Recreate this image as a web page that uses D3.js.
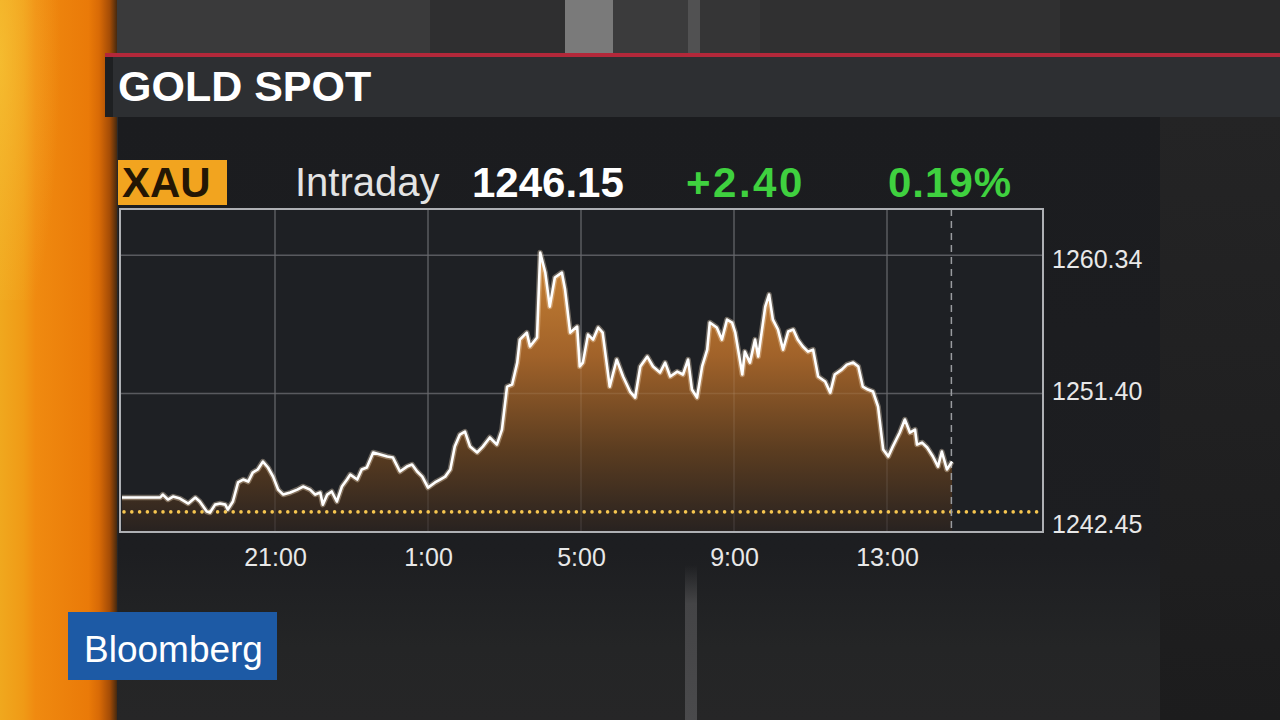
<!DOCTYPE html>
<html><head><meta charset="utf-8">
<script src="https://cdn.jsdelivr.net/npm/d3@7"></script>
<style>html,body{margin:0;padding:0;background:#29292a;overflow:hidden}svg{display:block}</style>
</head><body>
<svg id="c" width="1280" height="720"></svg>
<script>
// ---------- DATA ----------
const times = ["17:00","18:00","18:04","18:12","18:20","18:31","18:44","18:55","19:02","19:13","19:18","19:26","19:34","19:42","19:46","19:54",
"20:02","20:10","20:18","20:25","20:33","20:41","20:49","20:57","21:05","21:13","21:24","21:35","21:44","21:55","22:03","22:11","22:15","22:22",
"22:29","22:37","22:45","22:53","22:58","23:09","23:16","23:24","23:34","23:45","23:56","0:05","0:16","0:27","0:35","0:43","0:51","1:00","1:11",
"1:19","1:27","1:35","1:42","1:50","1:58","2:06","2:17","2:26","2:37","2:48","2:56","3:04","3:12","3:20","3:24","3:35","3:40","3:51","3:56","4:04",
"4:11","4:19","4:30","4:35","4:43","4:54","4:58","5:03","5:11","5:19","5:27","5:34","5:45","5:56","6:06","6:17","6:25","6:33","6:44","6:53","7:04",
"7:12","7:20","7:31","7:40","7:48","7:54","8:02","8:10","8:18","8:22","8:33","8:41","8:49","8:57","9:02","9:13","9:17","9:25","9:33","9:38","9:49",
"9:55","10:01","10:09","10:17","10:25","10:33","10:40","10:48","10:56","11:04","11:12","11:23","11:31","11:38","11:49","11:57","12:07","12:15",
"12:22","12:30","12:38","12:46","12:54","13:02","13:09","13:20","13:28","13:36","13:44","13:47","13:55","14:03","14:12","14:20","14:26","14:34","14:42"];
const prices = [1244.68,1244.68,1244.87,1244.55,1244.74,1244.61,1244.29,1244.68,1244.42,1243.77,1243.71,1244.22,1244.29,1244.22,1243.90,1244.42,
1245.65,1245.84,1245.71,1246.29,1246.49,1247.00,1246.62,1246.03,1245.19,1244.87,1245.00,1245.19,1245.39,1245.19,1244.87,1245.00,1244.22,1244.87,
1245.07,1244.42,1245.39,1245.84,1246.16,1245.84,1246.49,1246.62,1247.59,1247.46,1247.33,1247.26,1246.36,1246.68,1246.81,1246.36,1246.03,1245.32,1245.65,
1245.84,1246.03,1246.49,1247.97,1248.75,1248.94,1247.97,1247.59,1247.97,1248.56,1248.10,1249.07,1251.85,1251.98,1253.40,1254.89,1255.34,1254.44,1255.02,1260.51,1259.22,
1257.02,1258.90,1259.22,1258.12,1255.34,1255.73,1253.15,1253.40,1255.21,1254.89,1255.67,1255.34,1251.85,1253.60,1252.50,1251.53,1251.14,1253.15,1253.79,1253.15,1252.76,
1253.40,1252.50,1252.82,1252.63,1253.60,1251.66,1251.14,1253.15,1254.24,1255.99,1255.67,1254.89,1256.18,1255.99,1255.34,1252.63,1254.11,1253.40,1254.89,1253.79,1257.02,
1257.80,1256.18,1255.54,1254.24,1255.41,1255.54,1254.89,1254.44,1254.11,1254.24,1252.50,1252.18,1251.46,1252.63,1252.95,1253.27,1253.40,1253.15,
1251.85,1251.66,1251.53,1250.56,1247.78,1247.33,1247.97,1248.88,1249.72,1248.88,1249.07,1248.10,1248.23,1247.91,1247.33,1246.68,1247.65,1246.49,1247.00];
const yTickValues = [1242.45, 1251.40, 1260.34];
const xTickLabels = ["21:00","1:00","5:00","9:00","13:00"];
const ticker = "XAU", title = "GOLD SPOT", period = "Intraday";
const lastPrice = 1246.15, netChange = 2.40, pctChange = 0.19;
const prevClose = 1243.75;
const nowTime = "14:41";
const sessionStart = "17:00", sessionEnd = "17:00";
const yMaxDomain = 1263.33;

// ---------- HELPERS ----------
const parseT = (s, end) => { const [h, m] = s.split(":").map(Number); return new Date(2016, 0, (end || h < 17) ? 5 : 4, h, m); };
const data = times.map((t, i) => ({ t: parseT(t), v: prices[i] }));

const svg = d3.select("#c");
const defs = svg.append("defs");
const FONT = "'Liberation Sans', Arial, Helvetica, sans-serif";
const grad = (id, stops, attrs, type) => {
  const g = defs.append(type || "linearGradient").attr("id", id);
  Object.entries(attrs).forEach(([k, v]) => g.attr(k, v));
  stops.forEach(([o, c, op]) => g.append("stop").attr("offset", o).attr("stop-color", c).attr("stop-opacity", op == null ? 1 : op));
};

// ---------- BACKGROUND ----------
grad("leftStrip", [[0, "#f0a81e"], [0.2, "#f09a16"], [0.3, "#f08a10"], [0.75, "#ea7a08"], [0.84, "#d86a06"], [0.93, "#a44c06"], [1, "#3a2410"]],
  { x1: 0, x2: 1, y1: 0, y2: 0 });
svg.append("rect").attr("x", 0).attr("y", 0).attr("width", 118).attr("height", 720).attr("fill", "url(#leftStrip)");
grad("leftTop", [[0, "#f8c83a", 0.6], [0.5, "#f8c23a", 0.3], [1, "#f8c23a", 0]],
  { cx: 0, cy: 0.2, r: 1, gradientTransform: "scale(1,1)" }, "radialGradient");
svg.append("rect").attr("x", 0).attr("y", 0).attr("width", 60).attr("height", 300).attr("fill", "url(#leftTop)");

grad("bgMain", [[0, "#2b2b2c"], [1, "#252526"]], { x1: 0, x2: 0, y1: 0, y2: 1 });
svg.append("rect").attr("x", 117).attr("y", 0).attr("width", 1163).attr("height", 720).attr("fill", "url(#bgMain)");

// top studio band stripes
const topBands = [[117, 430, "#3a3a3b"], [430, 565, "#2f2f30"], [565, 613, "#7a7a7a"], [613, 688, "#3b3b3c"], [688, 700, "#515152"], [700, 760, "#353536"], [760, 1060, "#303031"], [1060, 1280, "#2a2a2b"]];
svg.selectAll(".tb").data(topBands).join("rect").attr("x", d => d[0]).attr("y", 0).attr("width", d => d[1] - d[0]).attr("height", 54).attr("fill", d => d[2]);

// right side area
grad("rightSide", [[0, "#242425"], [1, "#1c1c1d"]], { x1: 0, x2: 0, y1: 0, y2: 1 });
svg.append("rect").attr("x", 1160).attr("y", 117).attr("width", 120).attr("height", 603).attr("fill", "url(#rightSide)");

// red rule + title bar
svg.append("rect").attr("x", 105).attr("y", 53).attr("width", 1175).attr("height", 4).attr("fill", "#b3283a");
svg.append("rect").attr("x", 105).attr("y", 57).attr("width", 1175).attr("height", 60).attr("fill", "#2d2f32");
svg.append("rect").attr("x", 105).attr("y", 57).attr("width", 8).attr("height", 60).attr("fill", "#1e2022");
svg.append("text").attr("x", 118).attr("y", 101).attr("font-family", FONT).attr("font-weight", "bold").attr("font-size", 43)
  .attr("fill", "#ffffff").text(title);

// panel
grad("panel", [[0, "#1b1c1f"], [0.72, "#1d1e21"], [0.88, "#242526"], [1, "#262627"]], { x1: 0, x2: 0, y1: 0, y2: 1 });
svg.append("rect").attr("x", 118).attr("y", 117).attr("width", 1042).attr("height", 603).attr("fill", "url(#panel)");
grad("stripe", [[0, "#48484a", 0], [0.25, "#48484a", 0.9], [1, "#4a4a4c", 1]], { x1: 0, x2: 0, y1: 0, y2: 1 });
svg.append("rect").attr("x", 685).attr("y", 565).attr("width", 12).attr("height", 155).attr("fill", "url(#stripe)");

// ---------- HEADER ----------
svg.append("rect").attr("x", 118).attr("y", 160).attr("width", 109).attr("height", 45).attr("fill", "#f2a41f");
svg.append("text").attr("x", 122).attr("y", 197).attr("font-family", FONT).attr("font-weight", "bold").attr("font-size", 42)
  .attr("fill", "#241604").text(ticker);
svg.append("text").attr("x", 295).attr("y", 196).attr("font-family", FONT).attr("font-size", 40).attr("fill", "#e4e4e4").text(period);
svg.append("text").attr("x", 472).attr("y", 197).attr("font-family", FONT).attr("font-weight", "bold").attr("font-size", 42)
  .attr("fill", "#ffffff").text(d3.format(".2f")(lastPrice));
svg.append("text").attr("x", 686).attr("y", 197).attr("font-family", FONT).attr("font-weight", "bold").attr("font-size", 42)
  .attr("fill", "#3fd13f").attr("letter-spacing", 2.5).text(d3.format("+.2f")(netChange));
svg.append("text").attr("x", 888).attr("y", 197).attr("font-family", FONT).attr("font-weight", "bold").attr("font-size", 42)
  .attr("fill", "#3fd13f").attr("letter-spacing", 1).text(d3.format(".2f")(pctChange) + "%");

// ---------- CHART ----------
const x = d3.scaleTime().domain([parseT(sessionStart, false), parseT(sessionEnd, true)]).range([122, 1040]);
const y = d3.scaleLinear().domain([yTickValues[0], yMaxDomain]).range([532, 209]);
const fx0 = x.range()[0] - 2, fx1 = x.range()[1] + 3, fy0 = y.range()[1], fy1 = y.range()[0];

svg.append("rect").attr("x", fx0).attr("y", fy0).attr("width", fx1 - fx0).attr("height", fy1 - fy0).attr("fill", "#1e2024");

const xTicks = xTickLabels.map(s => parseT(s));
svg.append("g").selectAll("line").data(yTickValues.slice(1)).join("line")
  .attr("x1", fx0).attr("x2", fx1).attr("y1", d => y(d)).attr("y2", d => y(d)).attr("stroke", "#4b4d52").attr("stroke-width", 1.5);
svg.append("g").selectAll("line").data(xTicks).join("line")
  .attr("x1", d => x(d)).attr("x2", d => x(d)).attr("y1", fy0).attr("y2", fy1).attr("stroke", "#4b4d52").attr("stroke-width", 1.5);

// area
grad("areaG", [[0, "#cf8534"], [0.35, "#a8662a"], [0.7, "#5e3e20"], [1, "#282220"]],
  { gradientUnits: "userSpaceOnUse", x1: 0, x2: 0, y1: y(1260), y2: fy1 });
defs.append("clipPath").attr("id", "clipF").append("rect").attr("x", fx0).attr("y", fy0).attr("width", fx1 - fx0).attr("height", fy1 - fy0);
const gC = svg.append("g").attr("clip-path", "url(#clipF)");
gC.append("path").datum(data).attr("fill", "url(#areaG)").attr("opacity", 0.95)
  .attr("d", d3.area().x(d => x(d.t)).y0(fy1).y1(d => y(d.v)));
gC.append("g").selectAll("line").data(xTicks).join("line")
  .attr("x1", d => x(d)).attr("x2", d => x(d)).attr("y1", fy0).attr("y2", fy1).attr("stroke", "#ffffff").attr("stroke-opacity", 0.08).attr("stroke-width", 1.5);
gC.append("g").selectAll("line").data(yTickValues.slice(1)).join("line")
  .attr("x1", fx0).attr("x2", fx1).attr("y1", d => y(d)).attr("y2", d => y(d)).attr("stroke", "#ffffff").attr("stroke-opacity", 0.08).attr("stroke-width", 1.5);

// previous close dotted
svg.append("line").attr("x1", fx0 + 4).attr("x2", fx1 - 4).attr("y1", y(prevClose)).attr("y2", y(prevClose))
  .attr("stroke", "#f6c650").attr("stroke-width", 3.6).attr("stroke-linecap", "round").attr("stroke-dasharray", "0 7.8");

// now marker
svg.append("line").attr("x1", x(parseT(nowTime))).attr("x2", x(parseT(nowTime))).attr("y1", fy0).attr("y2", fy1)
  .attr("stroke", "#9a9ca0").attr("stroke-width", 1.5).attr("stroke-dasharray", "7 5");

// line
const lineGen = d3.line().x(d => x(d.t)).y(d => y(d.v));
svg.append("path").datum(data).attr("fill", "none").attr("stroke", "#ffe9c8").attr("stroke-opacity", 0.35).attr("stroke-width", 5.5).attr("stroke-linejoin", "round").attr("d", lineGen);
svg.append("path").datum(data).attr("fill", "none").attr("stroke", "#ffffff").attr("stroke-width", 2.6).attr("stroke-linejoin", "round").attr("d", lineGen);

// frame
svg.append("rect").attr("x", fx0).attr("y", fy0).attr("width", fx1 - fx0).attr("height", fy1 - fy0)
  .attr("fill", "none").attr("stroke", "#aeb0b4").attr("stroke-width", 2);

// axes
const yDy = ["0em", "0.22em", "0.47em"];
const yAxis = d3.axisRight(y).tickValues(yTickValues).tickSize(0).tickPadding(0).tickFormat(d3.format(".2f"));
const gy = svg.append("g").attr("transform", `translate(${fx1 + 9},0)`).call(yAxis);
gy.select(".domain").remove();
gy.selectAll("text").attr("font-family", FONT).attr("font-size", 25).attr("fill", "#e8e8e8").attr("dy", (d, i) => yDy[i]);

const xAxis = d3.axisBottom(x).tickValues(xTicks).tickSize(0).tickPadding(0).tickFormat(d3.timeFormat("%-H:%M"));
const gx = svg.append("g").attr("transform", `translate(0,${fy1 + 34})`).call(xAxis);
gx.select(".domain").remove();
gx.selectAll("text").attr("font-family", FONT).attr("font-size", 25).attr("fill", "#e8e8e8").attr("dy", 0);

// ---------- LOGO ----------
svg.append("rect").attr("x", 68).attr("y", 612).attr("width", 209).attr("height", 68).attr("fill", "#1d5aa5");
svg.append("text").attr("x", 84).attr("y", 662).attr("font-family", FONT).attr("font-size", 37).attr("fill", "#ffffff")
  .text("Bloomberg");
</script>
</body></html>
